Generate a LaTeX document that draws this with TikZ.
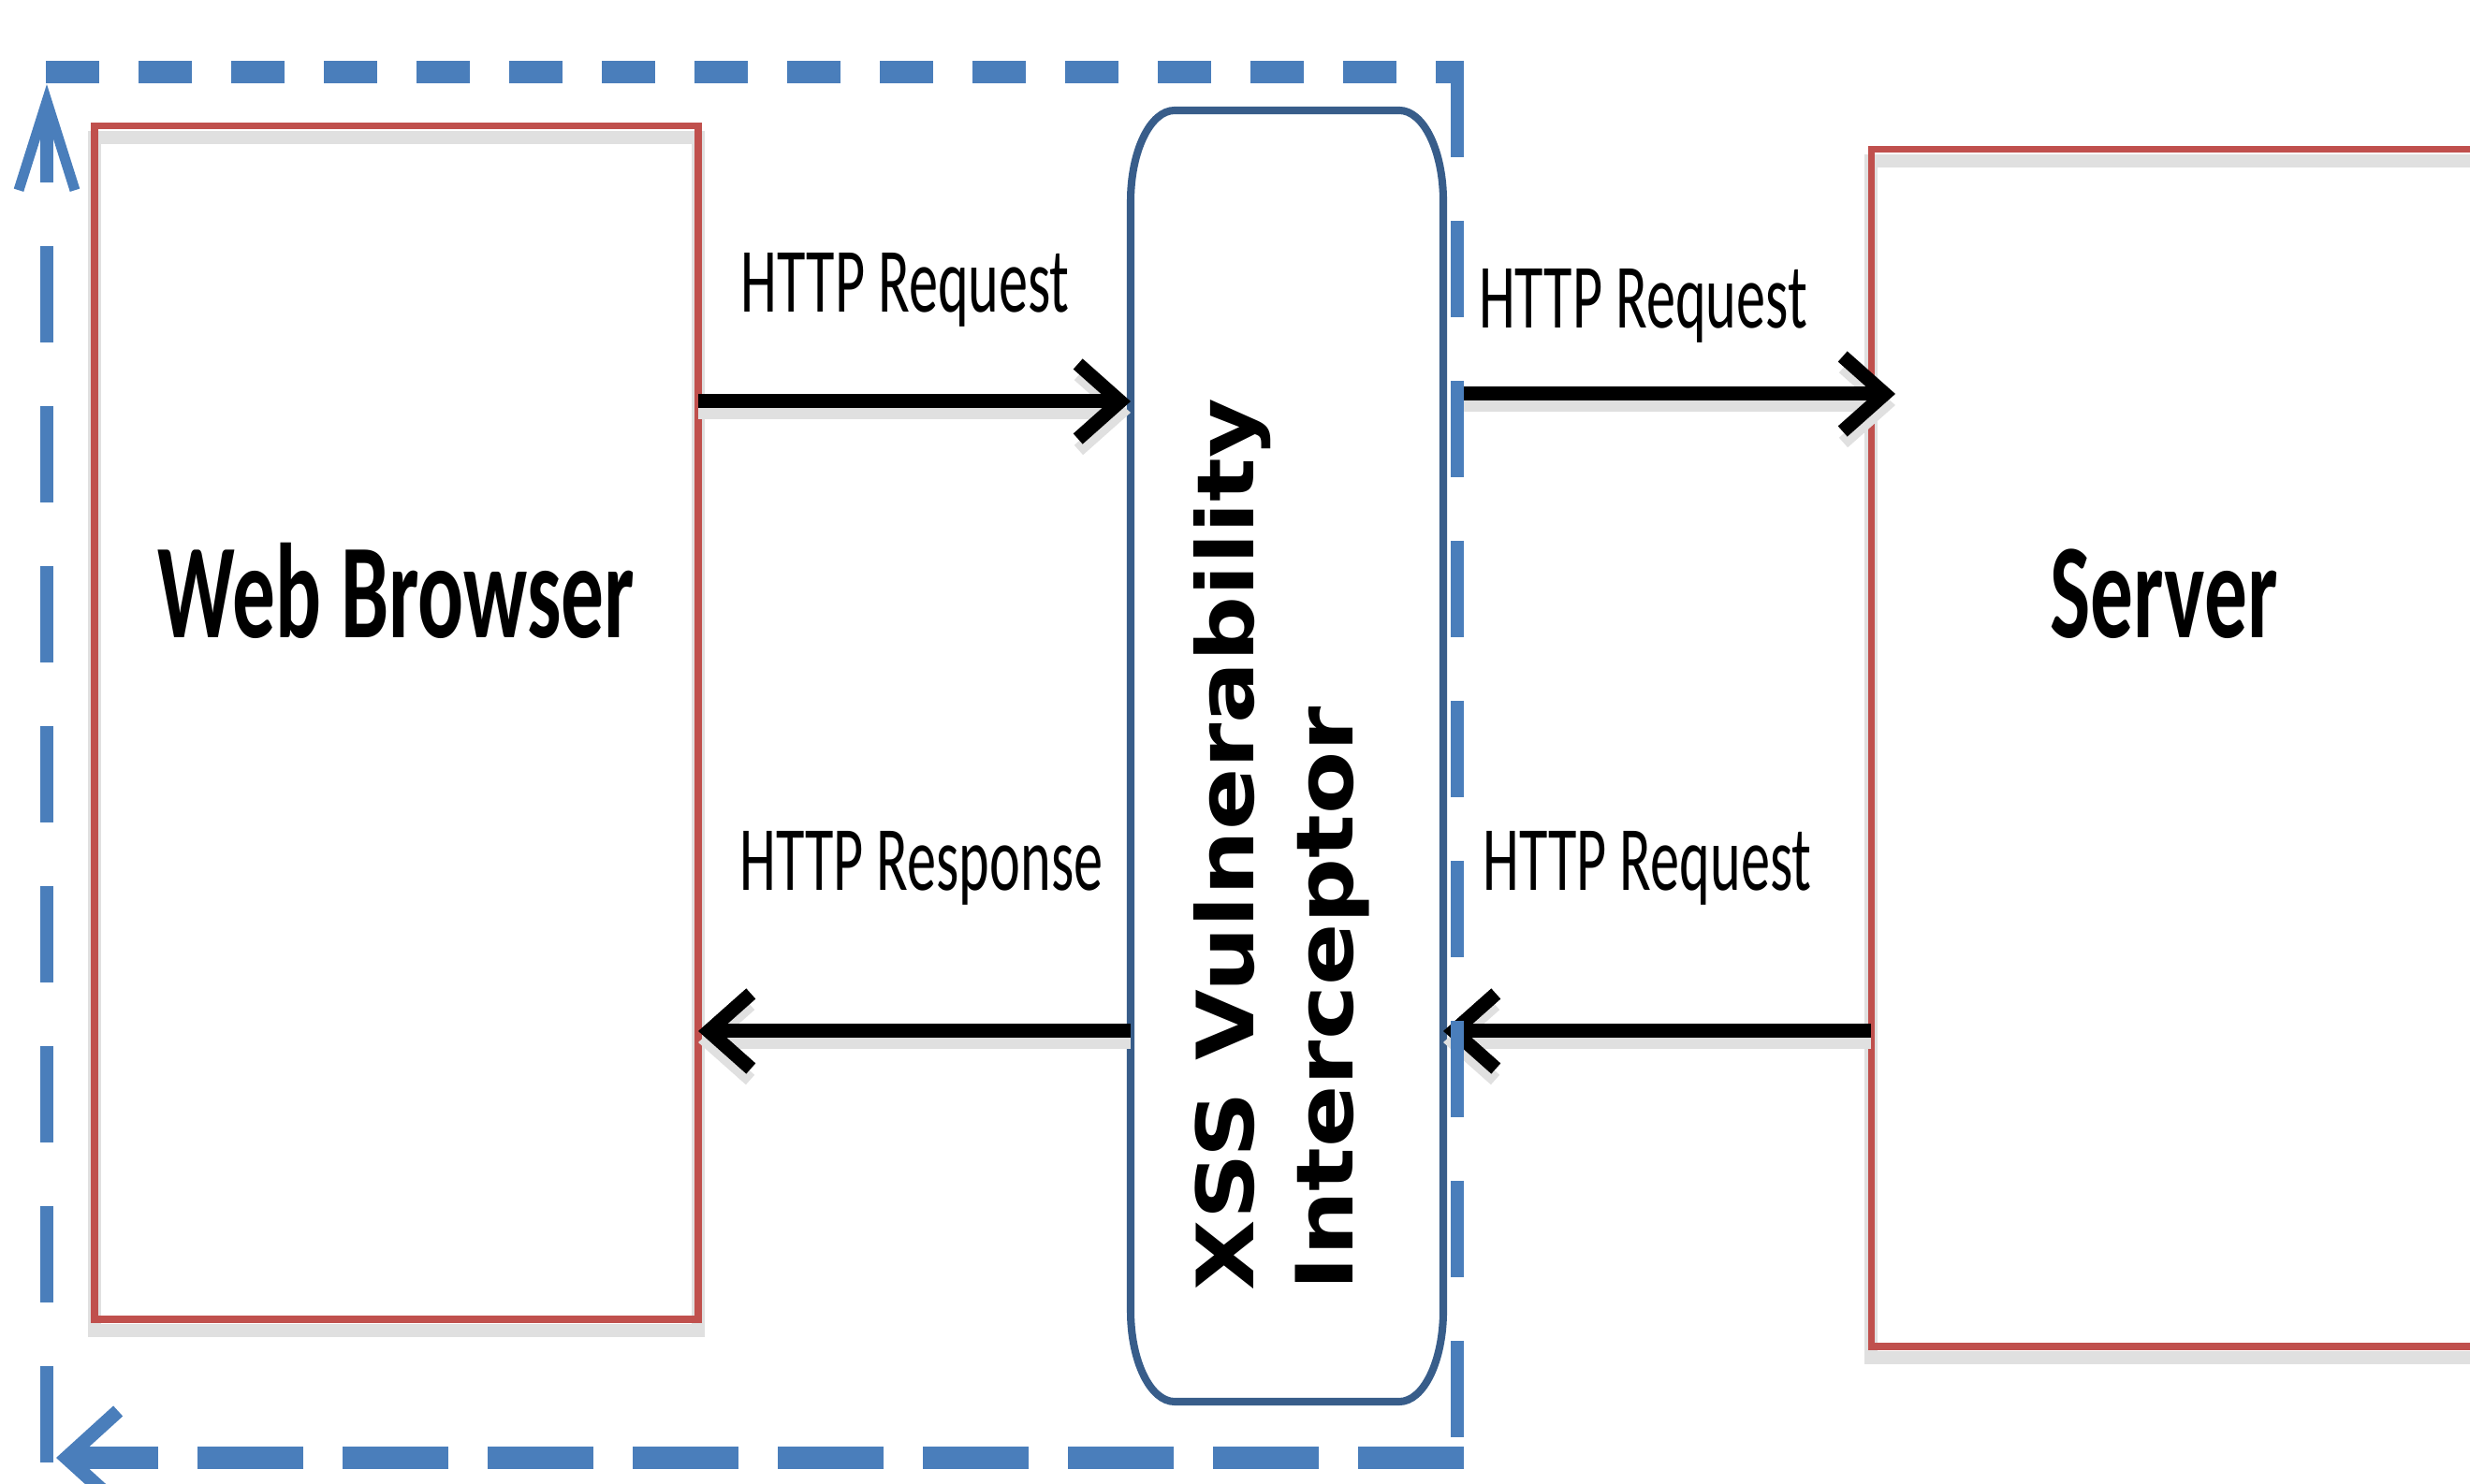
\documentclass[tikz,border=0pt]{standalone}
\usepackage{fontspec}
\setmainfont{Carlito}
\newfontfamily\guardfont{DejaVu Sans}
\usetikzlibrary{arrows.meta,positioning}
\definecolor{boxred}{RGB}{192,80,77}
\definecolor{guardblue}{RGB}{56,93,138}
\definecolor{frameblue}{RGB}{74,126,187}
\tikzset{%
	shadowed/.style = {preaction={draw=black!12, line width=0.14cm, transform canvas={yshift=-0.12cm}}},
	box/.style      = {draw=boxred, line width=2pt, rectangle, outer sep=0pt, minimum width=6.45cm, minimum height=12.75cm, shadowed}, % Endpoint
	guard/.style    = {rectangle, outer sep=0pt, minimum width=3.34cm, minimum height=13.8cm}, % Interceptor
	guardline/.style= {draw=guardblue, line width=2.3pt},
	corner/.style   = {x radius=0.47cm, y radius=0.97cm},
	title/.style    = {font=\fontsize{26}{30}\selectfont\bfseries, yscale=1.58, inner sep=0pt},
	tag/.style      = {font=\fontsize{17.7}{20}\selectfont, yscale=1.58, inner sep=0pt},
	vert/.style     = {font=\guardfont\fontsize{24}{30.1}\selectfont\bfseries, rotate=90, xscale=1.16, anchor=west, align=left, inner sep=0pt},
	link/.style     = {line width=0.15cm, -{Straight Barb[length=4.5mm, width=8mm]}, shadowed},
	frameh/.style   = {draw=frameblue, line width=0.24cm},
	framev/.style   = {draw=frameblue, line width=0.14cm, dash pattern=on 1.03cm off 0.68cm},
}

\begin{document}
\begin{tikzpicture}
	\useasboundingbox (0,0) rectangle (26.39,15.85);
	\node [box] (browser) at (4.235,8.125) {};
	\node [guard] (xss) [right=4.62cm of browser, yshift=-0.355cm] {};
	\node [box, minimum width=7.4cm, minimum height=12.79cm] (server) [right=4.57cm of xss, yshift=0.085cm] {};
	\node [title] (browsertxt) at ([yshift=1.415cm]browser.center) {Web Browser};
	\node [title] (servertxt) at ([xshift=3.13cm, yshift=1.645cm]server.west) {Server};
	\node [vert] (xsstxt) at ([xshift=-0.06cm, yshift=1.18cm]xss.south) {XSS Vulnerability\\Interceptor};
	
	% interceptor outline, corners stretched upright
	\draw [guardline] ([xshift=0.47cm]xss.north west) -- ([xshift=-0.47cm]xss.north east)
		arc [start angle=90, end angle=0, corner] -- ([yshift=0.97cm]xss.south east)
		arc [start angle=0, end angle=-90, corner] -- ([xshift=0.47cm]xss.south west)
		arc [start angle=270, end angle=180, corner] -- ([yshift=-0.97cm]xss.north west)
		arc [start angle=180, end angle=90, corner] -- cycle;
	
	\coordinate (req) at (0,11.56);
	\coordinate (fwd) at (0,11.64);
	\coordinate (back) at (0,4.83);
	
	\draw [link] (browser.east |- req) -- node[pos=0.479, yshift=1.19cm, tag] {HTTP Request} (xss.west |- req);
	\draw [link, shorten <=2mm, shorten >=-2.6mm] (xss.east |- fwd) -- node[pos=0.467, yshift=0.94cm, tag] {HTTP Request} (server.west |- fwd);
	\draw [link] (server.west |- back) -- node[pos=0.523, yshift=1.74cm, tag] {HTTP Request} (xss.east |- back);
	\draw [link] (xss.west |- back) -- node[pos=0.484, yshift=1.74cm, tag] {HTTP Response} (browser.east |- back);
	
	% dashed loop round browser and interceptor
	\coordinate (fnw) at (0.50,15.08);
	\coordinate (fne) at (15.57,15.08);
	\coordinate (fse) at (15.57,0.27);
	\coordinate (fsw) at (0.50,0.27);
	\draw [framev, -{Straight Barb[length=9.5mm, width=6mm, line width=1.1mm]}] ([yshift=-0.05cm]fsw) -- ([yshift=-0.13cm]fnw);
	\draw [frameh, dash pattern=on 0.57cm off 0.42cm] ([xshift=-0.01cm]fnw) -- ([xshift=0.07cm]fne);
	\draw [framev] ([yshift=0.12cm]fne) -- (fse);
	\draw [frameh, dash pattern=on 1.13cm off 0.42cm, -{Straight Barb[length=5.5mm, width=10mm, line width=1.5mm]}] ([xshift=0.07cm]fse) -- ([xshift=0.1cm]fsw);
\end{tikzpicture}
\end{document}
